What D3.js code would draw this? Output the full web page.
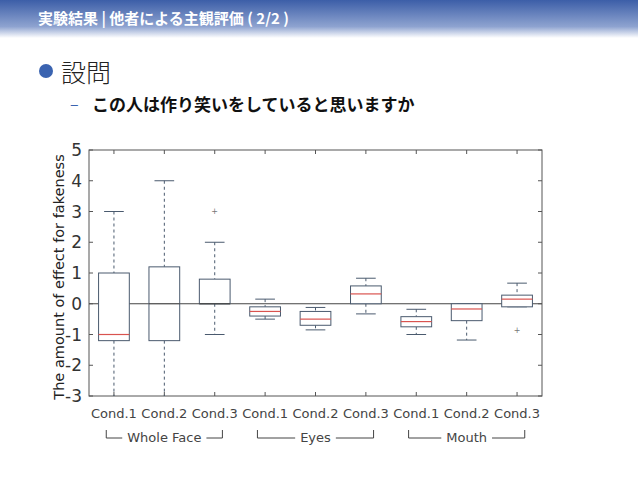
<!DOCTYPE html>
<html><head><meta charset="utf-8">
<script src="https://cdn.jsdelivr.net/npm/d3@7"></script>
<style>body{margin:0;background:#fff}svg{display:block}</style>
</head><body><div id="chart"></div>
<script>
// box statistics
const categories = ['Cond.1','Cond.2','Cond.3','Cond.1','Cond.2','Cond.3','Cond.1','Cond.2','Cond.3'];
const groups = ['Whole Face','Eyes','Mouth'];
const whiskerLow = [-3, -3, -1, -0.5, -0.85, -0.33, -1, -1.18, -0.1];
const q1 = [-1.2, -1.2, 0, -0.4, -0.7, 0, -0.75, -0.55, -0.1];
const median = [-1, 0, 0, -0.25, -0.5, 0.32, -0.58, -0.17, 0.15];
const q3 = [1, 1.2, 0.8, -0.1, -0.25, 0.58, -0.42, 0, 0.28];
const whiskerHigh = [3, 4, 2, 0.15, -0.12, 0.83, -0.18, 0, 0.67];
const outliers = [[], [], [3], [], [], [], [], [], [-0.85]];
const yTicks = [-3,-2,-1,0,1,2,3,4,5];

const W = 638, H = 479;
const svg = d3.select('#chart').append('svg').attr('width', W).attr('height', H);

// header bar
const grad = svg.append('defs').append('linearGradient').attr('id','hdr').attr('x1',0).attr('y1',0).attr('x2',0).attr('y2',1);
grad.append('stop').attr('offset','0%').attr('stop-color','#3c5ea8');
grad.append('stop').attr('offset','70%').attr('stop-color','#8ea3d0');
grad.append('stop').attr('offset','100%').attr('stop-color','#ffffff');
svg.append('rect').attr('width', W).attr('height', 38).attr('fill','url(#hdr)');
svg.append('text').attr('x', 38).attr('y', 24).attr('fill','#fff')
  .style('font-family','"Noto Sans CJK JP"').style('font-size','15px').style('font-weight','700')
  .text('実験結果 | 他者による主観評価 ( 2/2 )');

svg.append('circle').attr('cx', 46).attr('cy', 71).attr('r', 7).attr('fill','#3a63b0');
svg.append('text').attr('x', 61).attr('y', 82).style('font-family','"Noto Sans CJK JP"')
  .style('font-size','25px').style('font-weight','300').attr('fill','#222').text('設問');
svg.append('text').attr('x', 70).attr('y', 110).style('font-family','"Noto Sans CJK JP"')
  .style('font-size','16px').attr('fill','#3a63b0').text('–');
svg.append('text').attr('x', 92).attr('y', 111).style('font-family','"Noto Sans CJK JP"')
  .style('font-size','17px').style('font-weight','700').attr('fill','#111')
  .text('この人は作り笑いをしていると思いますか');

// plot
const m = {left: 89, right: 542, top: 150, bottom: 396};
const x = d3.scaleBand().domain(d3.range(categories.length)).range([m.left, m.right]).padding(0.39).paddingOuter(0.19);
const y = d3.scaleLinear().domain([-3, 5]).range([m.bottom, m.top]);
const axisCol = '#555';
const g = svg.append('g').style('font-family','"DejaVu Sans", sans-serif');

g.append('rect').attr('x', m.left).attr('y', m.top).attr('width', m.right - m.left).attr('height', m.bottom - m.top)
  .attr('fill','none').attr('stroke', axisCol).attr('stroke-width', 1);
g.append('line').attr('x1', m.left).attr('x2', m.right).attr('y1', y(0)).attr('y2', y(0)).attr('stroke','#444').attr('stroke-width',1.2);

// inner ticks on all sides
yTicks.forEach(t => {
  g.append('line').attr('x1', m.left).attr('x2', m.left + 4).attr('y1', y(t)).attr('y2', y(t)).attr('stroke', axisCol);
  g.append('line').attr('x1', m.right - 4).attr('x2', m.right).attr('y1', y(t)).attr('y2', y(t)).attr('stroke', axisCol);
});
categories.forEach((c, i) => {
  const cx = x(i) + x.bandwidth() / 2;
  g.append('line').attr('x1', cx).attr('x2', cx).attr('y1', m.top).attr('y2', m.top + 4).attr('stroke', axisCol);
  g.append('line').attr('x1', cx).attr('x2', cx).attr('y1', m.bottom - 4).attr('y2', m.bottom).attr('stroke', axisCol);
});

g.selectAll('.yt').data(yTicks).enter().append('text')
  .attr('x', m.left - 7).attr('y', d => y(d)).attr('dy','0.36em').attr('text-anchor','end')
  .style('font-size','17px').attr('fill','#333').text(d => d);

g.append('text').attr('transform', `translate(64,${(m.top + m.bottom) / 2 + 4}) rotate(-90)`)
  .attr('text-anchor','middle').style('font-size','14.5px').attr('fill','#222')
  .text('The amount of effect for fakeness');

// boxes
const boxCol = '#4a5a6e';
categories.forEach((c, i) => {
  const cx = x(i) + x.bandwidth() / 2, bw = x.bandwidth(), x0 = x(i);
  const cap = bw * 0.32;
  g.append('line').attr('x1', cx).attr('x2', cx).attr('y1', y(whiskerHigh[i])).attr('y2', y(q3[i]))
    .attr('stroke', boxCol).attr('stroke-dasharray','3,3');
  g.append('line').attr('x1', cx).attr('x2', cx).attr('y1', y(q1[i])).attr('y2', y(whiskerLow[i]))
    .attr('stroke', boxCol).attr('stroke-dasharray','3,3');
  [whiskerHigh[i], whiskerLow[i]].forEach(v => {
    if (v <= -3) return;
    g.append('line').attr('x1', cx - cap).attr('x2', cx + cap).attr('y1', y(v)).attr('y2', y(v)).attr('stroke', boxCol);
  });
  g.append('rect').attr('x', x0).attr('y', y(q3[i])).attr('width', bw).attr('height', y(q1[i]) - y(q3[i]))
    .attr('fill','#fff').attr('stroke', boxCol);
  g.append('line').attr('x1', x0).attr('x2', x0 + bw).attr('y1', y(median[i])).attr('y2', y(median[i]))
    .attr('stroke', median[i] === 0 ? '#444' : '#d9534f').attr('stroke-width', 1.2);
  outliers[i].forEach(v => {
    g.append('text').attr('x', cx).attr('y', y(v)).attr('dy','0.35em').attr('text-anchor','middle')
      .style('font-size','8px').attr('fill','#777').text('+');
  });
  g.append('text').attr('x', cx).attr('y', 418).attr('text-anchor','middle')
    .style('font-size','13px').attr('fill','#444').text(c);
});

// group brackets
groups.forEach((name, k) => {
  const a = x(k * 3) + x.bandwidth() * 0.25, b = x(k * 3 + 2) + x.bandwidth() * 0.75;
  const mid = (a + b) / 2, yb = 438;
  const t = g.append('text').attr('x', mid).attr('y', yb + 4).attr('text-anchor','middle')
    .style('font-size','13px').attr('fill','#444').text(name);
  const tw = t.node().getComputedTextLength() / 2 + 5;
  g.append('path').attr('d', `M${a},${yb - 8}V${yb}H${mid - tw}M${mid + tw},${yb}H${b}V${yb - 8}`)
    .attr('fill','none').attr('stroke','#444');
});
</script></body></html>
